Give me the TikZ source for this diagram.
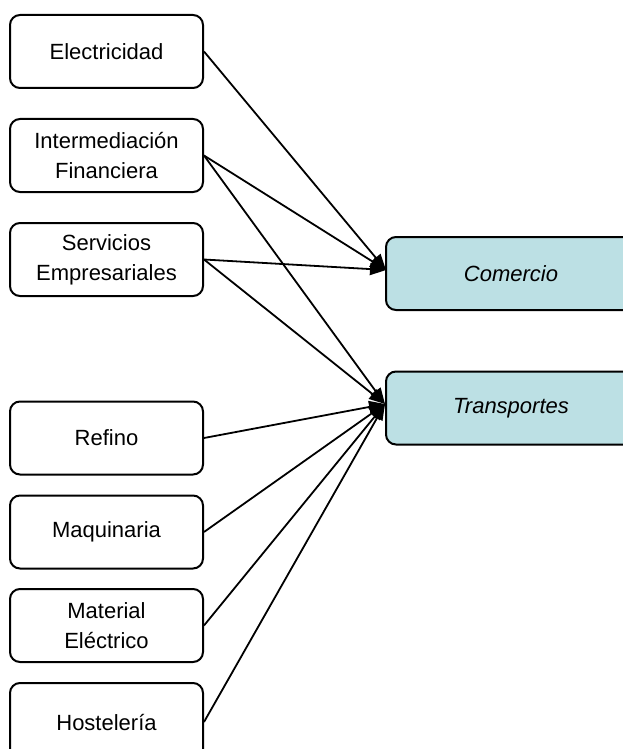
\documentclass[tikz,border=0pt]{standalone}
\usepackage{fontspec}
\setmainfont{Liberation Sans}
\usetikzlibrary{arrows.meta}
\definecolor{tealfill}{RGB}{188,224,228}
\begin{document}
\begin{tikzpicture}[x=0.5pt,y=-0.5pt,
  src/.style={draw,line width=1pt,rounded corners=5pt,minimum width=96.5pt,minimum height=36.5pt,
    align=center,font=\fontsize{11}{15}\selectfont,inner sep=0pt},
  dst/.style={draw,line width=1pt,rounded corners=5pt,fill=tealfill,minimum width=125pt,minimum height=36.5pt,
    font=\fontsize{11}{15}\selectfont\itshape,inner sep=0pt},
  conn/.style={line width=0.9pt,-{Triangle[length=8pt,width=6pt]}}]
\useasboundingbox (0,0) rectangle (622,749);
\node[src] (ele) at (106.5,51.5) {Electricidad};
\node[src] (int) at (106.5,155.5) {Intermediación\\Financiera};
\node[src] (ser) at (106.5,259.5) {Servicios\\Empresariales};
\node[src] (ref) at (106.5,438) {Refino};
\node[src] (maq) at (106.5,532) {Maquinaria};
\node[src] (mat) at (106.5,625.5) {Material\\Eléctrico};
\node[src,minimum height=39pt] (hos) at (106.5,722) {Hostelería};
\node[dst] (com) at (511,273.5) {Comercio};
\node[dst] (tra) at (511,408) {Transportes};
\coordinate (tc) at (386,270);
\coordinate (tt) at (385,404);
\draw[conn] (ele.east) -- (tc);
\draw[conn] (int.east) -- (tc);
\draw[conn] (ser.east) -- (tc);
\draw[conn] (int.east) -- (tt);
\draw[conn] (ser.east) -- (tt);
\draw[conn] (ref.east) -- (tt);
\draw[conn] (maq.east) -- (tt);
\draw[conn] (mat.east) -- (tt);
\draw[conn] (hos.east) -- (tt);
\end{tikzpicture}
\end{document}
